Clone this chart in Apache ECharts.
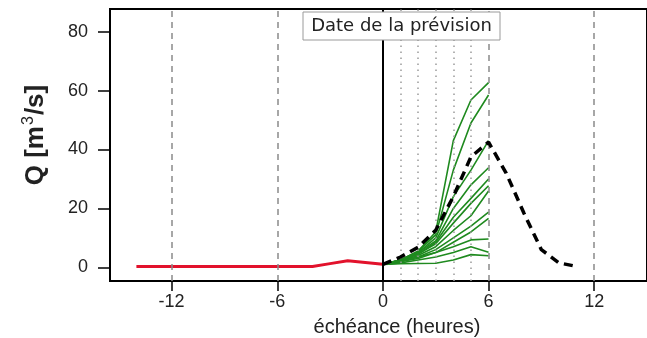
<!DOCTYPE html>
<html><head><meta charset="utf-8">
<script src="https://cdn.jsdelivr.net/npm/echarts@6/dist/echarts.min.js"></script>
<style>html,body{margin:0;padding:0;background:#fff}#c{width:647px;height:338px}</style>
</head><body><div id="c"></div>
<script>
// observed (past) discharge
const obsHours = [-14,-13,-12,-11,-10,-9,-8,-7,-6,-5,-4,-3,-2,-1,0];
const obsValues = [0.3,0.3,0.3,0.3,0.3,0.3,0.3,0.3,0.3,0.3,0.3,1.25,2.2,1.6,1.0];
// reference (dashed) hydrograph
const refHours = [0,1,2,3,4,5,6,7,8,9,10,11];
const refValues = [1.0,3.5,6.8,12.6,24,37.5,42.5,32,18.5,6,1.5,0.3];
// ensemble forecast members
const fcHours = [0,1,2,3,4,5,6];
const member1  = [1,2.5,5.5,12,43,56.8,62.7];
const member2  = [1,2.5,5.5,11,33,49,58.5];
const member3  = [1,2.5,5,10,24,33,43];
const member4  = [1,2.5,5,9,20,28,33.8];
const member5  = [1,2.5,4.5,8.5,17,23.4,30];
const member6  = [1,2,4.5,8,15,21.7,27.7];
const member7  = [1,2,4,7,12.5,17.5,25.9];
const member8  = [1,2,3.5,6,10,14,18.7];
const member9  = [1,2,3,5,8.5,12,16.6];
const member10 = [1,2,3.5,5,7,9.3,9.6];
const member11 = [1,1.5,2.5,3.5,5,7,5.1];
const member12 = [1,1.2,1.3,1.4,2.5,4.3,3.9];
const members = [member1,member2,member3,member4,member5,member6,member7,member8,member9,member10,member11,member12];
// reference vertical lines and ticks
const dashedVLines = [-12,-6,6,12];
const dottedVLines = [1,2,3,4,5];
const solidVLines = [0];
const xTicks = [-12,-6,0,6,12];
const yTicks = [0,20,40,60,80];

const chart = echarts.init(document.getElementById('c'));
const pair = (xs, ys) => xs.map((x,i)=>[x, ys[i]]);
const FONT = 'Liberation Sans, Arial, sans-serif';

const series = [];
series.push({
  type:'line', data:[], silent:true, z:1,
  markLine:{ symbol:'none', silent:true, label:{show:false},
    lineStyle:{color:'#8a8a8a', width:1.5, type:[6,5]},
    data: dashedVLines.map(v=>({xAxis:v})) }
});
series.push({
  type:'line', data:[], silent:true, z:1,
  markLine:{ symbol:'none', silent:true, label:{show:false},
    lineStyle:{color:'#9a9a9a', width:1.5, type:[1.5,4.5]},
    data: dottedVLines.map(v=>({xAxis:v})) }
});
series.push({
  type:'line', data:[], silent:true, z:2,
  markLine:{ symbol:'none', silent:true, label:{show:false},
    lineStyle:{color:'#000', width:2, type:'solid'},
    data: solidVLines.map(v=>({xAxis:v})) }
});
series.push({
  type:'line', data: pair(obsHours, obsValues), showSymbol:false, z:3,
  lineStyle:{color:'#e2122c', width:3}
});
members.forEach(m => series.push({
  type:'line', data: pair(fcHours, m), showSymbol:false, z:4,
  lineStyle:{color:'#1f8a1f', width:1.6}
}));
series.push({
  type:'line', data: pair(refHours, refValues), showSymbol:false, z:5,
  lineStyle:{color:'#000', width:3.5, type:[9,6]}
});

chart.setOption({
  animation:false,
  backgroundColor:'#fff',
  grid:{left:110, top:9, right:-2, bottom:57, show:true, borderColor:'#000', borderWidth:2},
  xAxis:{
    type:'value', min:-15.5, max:15,
    axisLine:{show:true, onZero:false, lineStyle:{color:'#000', width:2}},
    axisTick:{show:true, inside:false, length:10, lineStyle:{color:'#000', width:1.5}, customValues:xTicks},
    axisLabel:{margin:12, fontSize:18, color:'#222', fontFamily:FONT, customValues:xTicks},
    splitLine:{show:false}
  },
  yAxis:{
    type:'value', min:-4.65, max:87.7,
    axisLine:{show:true, onZero:false, lineStyle:{color:'#000', width:2}},
    axisTick:{show:true, inside:false, length:12, lineStyle:{color:'#000', width:1.5}, customValues:yTicks},
    axisLabel:{margin:22, fontSize:18, color:'#222', fontFamily:FONT, customValues:yTicks},
    splitLine:{show:false}
  },
  graphic:[
    {type:'rect', z:100, shape:{x:303, y:12, width:197, height:28},
     style:{fill:'#fff', stroke:'#9a9a9a', lineWidth:1}},
    {type:'text', z:101, x:401.5, y:26,
     style:{text:'Date de la prévision', font:'18px "DejaVu Sans", sans-serif', fill:'#222', align:'center', verticalAlign:'middle'}},
    {type:'text', z:101, x:397, y:327,
     style:{text:'échéance (heures)', font:'20px "Liberation Sans", Arial, sans-serif', fill:'#222', align:'center', verticalAlign:'middle'}},
    {type:'text', z:101, x:36, y:135, rotation:Math.PI/2,
     style:{text:'{a|Q [m}{s|3}{a|/s]}', align:'center', verticalAlign:'middle',
       rich:{a:{font:'bold 26px "Liberation Sans", Arial, sans-serif', fill:'#222', lineHeight:30},
             s:{font:'16px "Liberation Sans", Arial, sans-serif', fill:'#222', verticalAlign:'top', lineHeight:30, padding:[0,1,12,1]}}}}
  ],
  series: series
});
</script></body></html>
